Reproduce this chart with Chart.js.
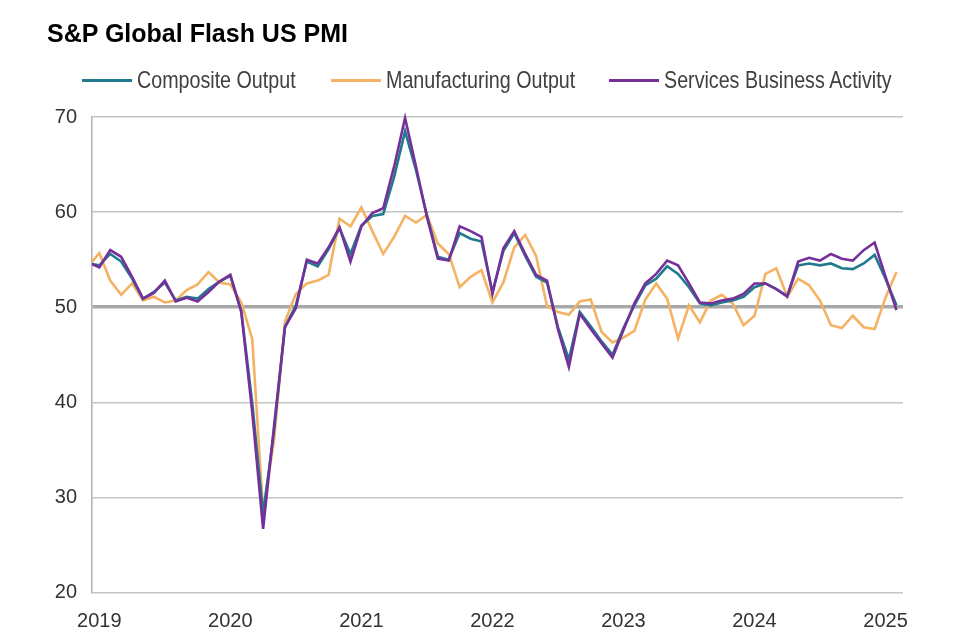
<!DOCTYPE html>
<html>
<head>
<meta charset="utf-8">
<script src="https://cdn.jsdelivr.net/npm/chart.js@4.4.1/dist/chart.umd.min.js"></script>
<style>
html,body{margin:0;padding:0;background:#fff;}
#wrap{position:relative;width:960px;height:640px;overflow:hidden;}
#title{position:absolute;left:47px;top:21px;line-height:25px;font-weight:bold;font-size:25px;font-family:'Liberation Sans',Arial,sans-serif;color:#000;white-space:nowrap;}
#legend{position:absolute;left:0;top:0;width:960px;height:100px;}
.sw{position:absolute;top:79px;width:50px;height:3px;}
.tx{position:absolute;top:68px;line-height:24px;font-size:24px;font-family:'Liberation Sans',Arial,sans-serif;color:#404040;white-space:nowrap;transform:scaleX(0.82);transform-origin:0 50%;}
canvas{position:absolute;left:0;top:0;}
</style>
</head>
<body>
<div id="wrap">
<canvas id="c" width="960" height="640"></canvas>
<div id="title">S&amp;P Global Flash US PMI</div>
<div id="legend"></div>
</div>
<script>
const months = ['Dec 2018',
'Jan 2019','Feb 2019','Mar 2019','Apr 2019','May 2019','Jun 2019','Jul 2019','Aug 2019','Sep 2019','Oct 2019','Nov 2019','Dec 2019',
'Jan 2020','Feb 2020','Mar 2020','Apr 2020','May 2020','Jun 2020','Jul 2020','Aug 2020','Sep 2020','Oct 2020','Nov 2020','Dec 2020',
'Jan 2021','Feb 2021','Mar 2021','Apr 2021','May 2021','Jun 2021','Jul 2021','Aug 2021','Sep 2021','Oct 2021','Nov 2021','Dec 2021',
'Jan 2022','Feb 2022','Mar 2022','Apr 2022','May 2022','Jun 2022','Jul 2022','Aug 2022','Sep 2022','Oct 2022','Nov 2022','Dec 2022',
'Jan 2023','Feb 2023','Mar 2023','Apr 2023','May 2023','Jun 2023','Jul 2023','Aug 2023','Sep 2023','Oct 2023','Nov 2023','Dec 2023',
'Jan 2024','Feb 2024','Mar 2024','Apr 2024','May 2024','Jun 2024','Jul 2024','Aug 2024','Sep 2024','Oct 2024','Nov 2024','Dec 2024',
'Jan 2025','Feb 2025'];

const compositeOutput = [54.6,
54.4,55.6,54.8,53.0,50.9,51.6,52.6,50.7,51.1,50.9,51.9,52.7,
53.3,49.6,40.0,28.3,37.0,47.9,50.2,54.8,54.3,56.1,58.3,55.6,
58.6,59.6,59.8,63.7,68.5,64.4,59.7,55.3,55.0,57.8,57.2,56.9,
51.6,55.9,57.8,55.4,53.2,52.6,47.9,44.5,49.5,48.0,46.4,45.0,
47.8,50.2,52.3,53.0,54.3,53.5,52.1,50.4,50.2,50.5,50.7,51.1,
52.1,52.5,51.9,51.2,54.4,54.6,54.4,54.6,54.1,54.0,54.6,55.5,
53.0,50.2];

const manufacturingOutput = [54.3,
55.7,52.8,51.3,52.5,50.7,51.1,50.5,50.7,51.8,52.4,53.7,52.6,
52.4,50.5,46.7,28.5,36.0,48.5,51.4,52.5,52.8,53.4,59.3,58.5,
60.5,58.0,55.6,57.4,59.6,58.9,59.7,56.7,55.6,52.1,53.2,53.9,
50.5,52.6,56.3,57.6,55.4,50.1,49.5,49.2,50.6,50.8,47.4,46.3,
46.8,47.5,50.8,52.5,50.9,46.7,50.2,48.4,50.7,51.3,50.4,48.1,
49.1,53.5,54.1,51.1,53.0,52.3,50.7,48.1,47.8,49.1,47.9,47.7,
51.0,53.7];

const servicesBusinessActivity = [54.7,
54.2,56.0,55.3,53.2,50.9,51.5,52.8,50.6,51.0,50.6,51.6,52.7,
53.4,49.5,39.0,26.7,37.5,47.9,49.9,55.0,54.6,56.3,58.4,54.8,
58.5,59.9,60.4,64.8,69.9,64.8,59.5,55.1,54.9,58.5,58.0,57.4,
51.4,56.2,58.0,55.6,53.4,52.8,47.7,43.7,49.3,47.7,46.2,44.7,
47.6,50.4,52.5,53.5,54.9,54.4,52.5,50.5,50.4,50.7,50.9,51.4,
52.5,52.5,51.9,51.1,54.8,55.2,54.9,55.6,55.1,54.9,56.0,56.8,
53.2,49.7];

const yearLabels = ['2019','2020','2021','2022','2023','2024','2025'];
const yTickValues = [20,30,40,50,60,70];

const seriesNames = ['Composite Output','Manufacturing Output','Services Business Activity'];
const seriesColors = ['#217a8e','#f4b262','#75309a'];
const seriesData = [compositeOutput, manufacturingOutput, servicesBusinessActivity];
const seriesOrder = [1, 2, 0];

// month index: Jan 2019 = 0 (Dec 2018 = -1)
const toPoints = arr => arr.map((v, i) => ({ x: i - 1, y: v, label: months[i] }));

const datasets = seriesNames.map((name, k) => ({
  label: name,
  data: toPoints(seriesData[k]),
  borderColor: seriesColors[k],
  backgroundColor: seriesColors[k],
  borderWidth: 2.6,
  pointRadius: 0,
  pointHoverRadius: 0,
  tension: 0,
  fill: false,
  order: seriesOrder[k],
  clip: { left: 0, right: 0, top: 5, bottom: 5 }
}));

// HTML legend (line sample + text)
const legendSampleLeft = [82, 331, 609];
const legendTextLeft = [137, 386, 664];
const legendEl = document.getElementById('legend');
seriesNames.forEach((name, k) => {
  const sw = document.createElement('div');
  sw.className = 'sw';
  sw.style.left = legendSampleLeft[k] + 'px';
  sw.style.background = seriesColors[k];
  const tx = document.createElement('div');
  tx.className = 'tx';
  tx.style.left = legendTextLeft[k] + 'px';
  tx.textContent = name;
  legendEl.appendChild(sw);
  legendEl.appendChild(tx);
});

const tickFont = { family: "'Liberation Sans',Arial,sans-serif", size: 20 };

new Chart(document.getElementById('c'), {
  type: 'line',
  data: { datasets },
  options: {
    responsive: false,
    animation: false,
    devicePixelRatio: 1,
    layout: { padding: { top: 117, right: 57, bottom: 0, left: 0 } },
    plugins: { legend: { display: false }, title: { display: false }, tooltip: { enabled: false } },
    scales: {
      x: {
        type: 'linear',
        min: -0.67,
        max: 73.6,
        grid: { display: false, drawTicks: false },
        border: { display: false },
        afterBuildTicks: s => { s.ticks = yearLabels.map((_, i) => ({ value: i * 12 })); },
        afterFit: s => { s.height = 47.5; },
        ticks: {
          autoSkip: false, maxRotation: 0, minRotation: 0,
          padding: 17, color: '#333333', font: tickFont,
          callback: v => yearLabels[Math.round(v / 12)]
        }
      },
      y: {
        min: 20,
        max: 70,
        afterBuildTicks: s => { s.ticks = yTickValues.map(v => ({ value: v })); },
        afterFit: s => { s.width = 92; },
        grid: {
          drawTicks: false,
          color: ctx => ctx.tick && ctx.tick.value === 50 ? '#a8a8a8' : '#c4c4c4',
          lineWidth: ctx => ctx.tick && ctx.tick.value === 50 ? 3.5 : 1.6
        },
        border: { display: true, color: '#b4b4b4', width: 1.6 },
        ticks: { padding: 15, color: '#333333', font: tickFont }
      }
    }
  }
});
</script>
</body>
</html>
